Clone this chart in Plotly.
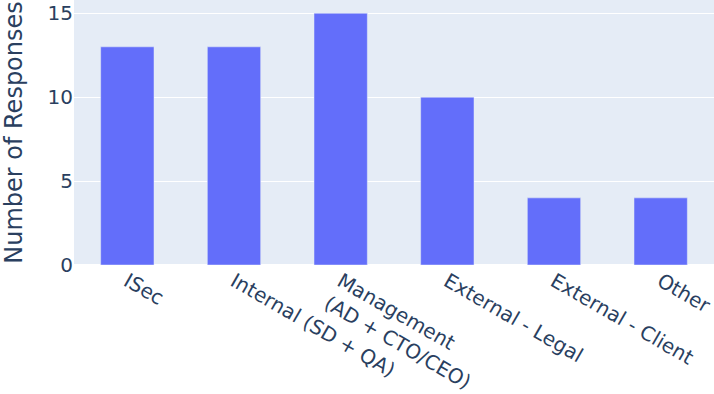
import plotly.graph_objects as go

categories = ["ISec", "Internal (SD + QA)", "Management<br>(AD + CTO/CEO)",
              "External - Legal", "External - Client", "Other"]
responses = [13, 13, 15, 10, 4, 4]

fig = go.Figure(go.Bar(x=categories, y=responses, marker_color="#636efa"))
fig.update_layout(
    template="plotly",
    width=714, height=394,
    font=dict(family="DejaVu Sans", size=20, color="#2a3f5f"),
    bargap=0.5,
    margin=dict(l=74, r=0, t=0, b=129),
    showlegend=False,
)
fig.update_xaxes(tickangle=30, automargin=False)
fig.update_yaxes(title=dict(text="Number of Responses", font=dict(size=24), standoff=28),
                 automargin=True)
fig.write_html("out.html", config={"displayModeBar": False},
               post_script="document.body.style.margin='0';")
